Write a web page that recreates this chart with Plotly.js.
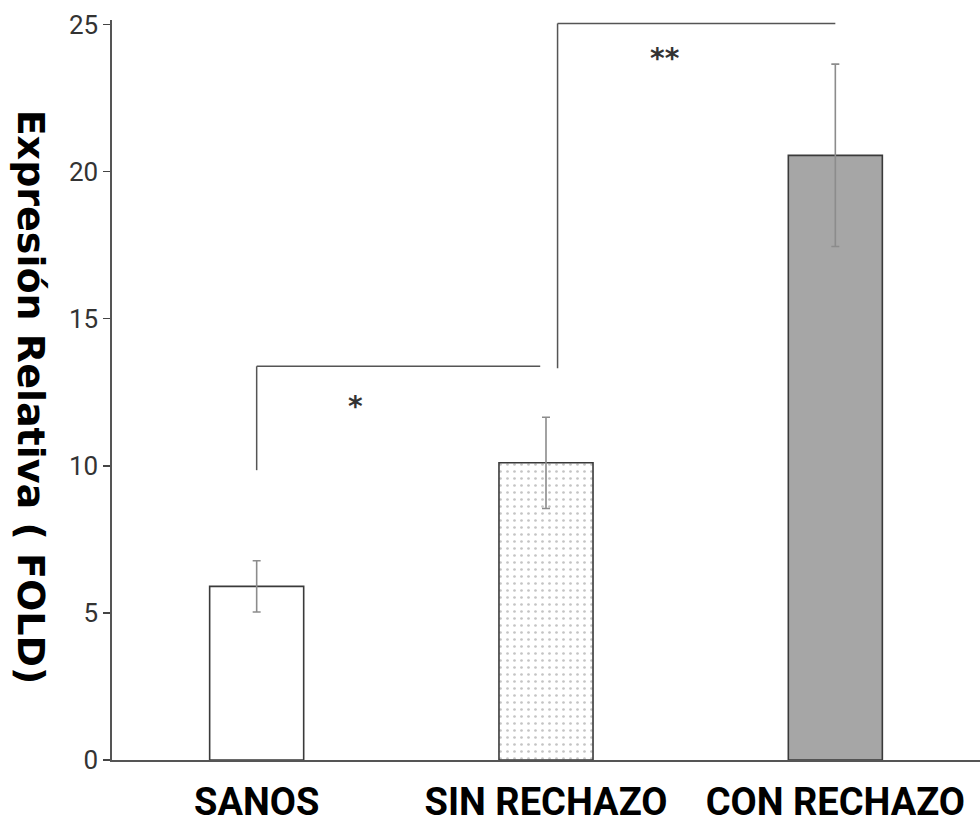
<!DOCTYPE html>
<html>
<head>
<meta charset="utf-8">
<script src="https://cdn.plot.ly/plotly-3.0.1.min.js"></script>
<style>html,body{margin:0;padding:0;background:#fff;}#chart{width:980px;height:825px;}</style>
</head>
<body>
<div id="chart"></div>
<script>
// Data
const categories = ["SANOS", "SIN RECHAZO", "CON RECHAZO"];
const values = [5.9, 10.1, 20.55];
const errors = [0.87, 1.55, 3.1];
const fills = ["#ffffff", "#ffffff", "#a6a6a6"];
const patterns = ["", ".", ""];
const yTicks = [0, 5, 10, 15, 20, 25];
// significance brackets: [xStart, xEnd, yLow, yTop]
const bracket1 = [0, 0.98, 9.85, 13.38];
const bracket2 = [1.04, 2.0, 13.31, 25.03];
const stars = ["*", "**"];
const starX = [0.34, 1.41];
const starY = [12.0, 23.85];
const yTitle = "Expresión Relativa ( FOLD)";

const traces = categories.map((c, i) => {
  const marker = {color: fills[i], line: {color: "#3a3a3a", width: 1.6}};
  if (patterns[i]) {
    marker.pattern = {shape: patterns[i], fgcolor: "#c4c4c4", bgcolor: "#ffffff", size: 7, solidity: 0.12};
  }
  return {
    type: "bar",
    x: [i],
    y: [values[i]],
    width: 0.325,
    marker: marker,
    error_y: {type: "data", array: [errors[i]], visible: true, color: "#8c8c8c", thickness: 1.6, width: 4},
    hoverinfo: "skip"
  };
});

function bracketShapes(b) {
  const ln = {color: "#555555", width: 1.5};
  return [
    {type: "line", xref: "x", yref: "y", x0: b[0], x1: b[0], y0: b[2], y1: b[3], line: ln},
    {type: "line", xref: "x", yref: "y", x0: b[0], x1: b[1], y0: b[3], y1: b[3], line: ln}
  ];
}

const layout = {
  width: 980, height: 825,
  margin: {l: 112, r: 0, t: 20, b: 65},
  paper_bgcolor: "#ffffff", plot_bgcolor: "#ffffff",
  showlegend: false,
  barmode: "overlay",
  xaxis: {
    range: [-0.5, 2.5],
    tickvals: [0, 1, 2],
    ticktext: categories,
    showline: true, linecolor: "#555555", linewidth: 1.6,
    ticks: "", showgrid: false, zeroline: false,
    ticklabelstandoff: 8,
    tickfont: {family: "Roboto, 'Liberation Sans', Arial, sans-serif", size: 38, color: "#000000", weight: "bold"},
    fixedrange: true
  },
  yaxis: {
    range: [0, 25.15],
    tickvals: yTicks,
    showline: true, linecolor: "#555555", linewidth: 1.6,
    ticks: "outside", ticklen: 7, tickcolor: "#444444", tickwidth: 1.5,
    showgrid: false, zeroline: false,
    tickfont: {family: "Roboto, sans-serif", size: 26, color: "#333333"},
    fixedrange: true
  },
  shapes: [].concat(bracketShapes(bracket1), bracketShapes(bracket2)),
  annotations: [
    {text: yTitle, xref: "paper", yref: "paper", x: (31 - 112) / 868, y: 0.491,
     xanchor: "center", yanchor: "middle", textangle: 90, showarrow: false,
     font: {family: "'DejaVu Sans', sans-serif", size: 38, color: "#000000", weight: "bold"}}
  ].concat(stars.map((s, i) => ({
    text: s, xref: "x", yref: "y", x: starX[i], y: starY[i], showarrow: false,
    xanchor: "center", yanchor: "middle",
    font: {family: "'DejaVu Sans', sans-serif", size: 28, color: "#333333", weight: "bold"}
  })))
};

Plotly.newPlot("chart", traces, layout, {displayModeBar: false, staticPlot: true});
</script>
</body>
</html>
